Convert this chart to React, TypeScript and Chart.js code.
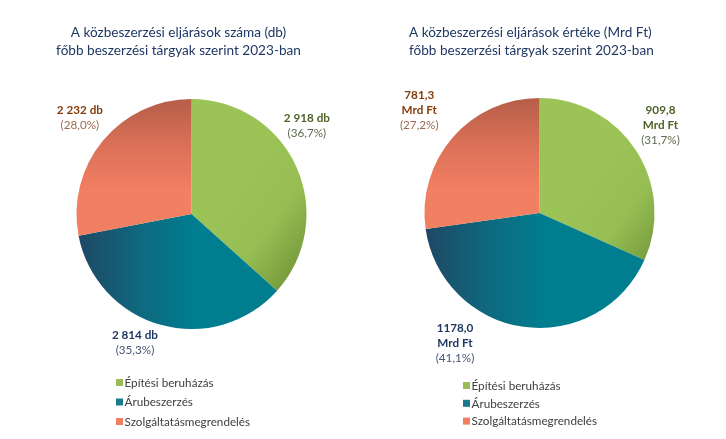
import React, { useEffect, useRef } from 'react';
import { Chart, registerables } from 'chart.js';

Chart.register(...registerables);

const categories = ['Építési beruházás', 'Árubeszerzés', 'Szolgáltatásmegrendelés'];

const countValues = [2918, 2814, 2232];
const countValueLabels = [['2 918 db'], ['2 814 db'], ['2 232 db']];
const countPercentLabels = ['(36,7%)', '(35,3%)', '(28,0%)'];
const countTitle = ['A közbeszerzési eljárások száma (db)', 'főbb beszerzési tárgyak szerint 2023-ban'];

const amountValues = [909.8, 1178.0, 781.3];
const amountValueLabels = [['909,8', 'Mrd Ft'], ['1178,0', 'Mrd Ft'], ['781,3', 'Mrd Ft']];
const amountPercentLabels = ['(31,7%)', '(41,1%)', '(27,2%)'];
const amountTitle = ['A közbeszerzési eljárások értéke (Mrd Ft)', 'főbb beszerzési tárgyak szerint 2023-ban'];

const FONT = 'Lato, "Open Sans", sans-serif';
const legendColors = ['#9BBB59', '#1B7A8C', '#F07F62'];
const valueColors = ['#4F6228', '#1F3864', '#843C0C'];
const pctColors = ['#5F6B4E', '#4A5675', '#9C6A52'];

function sliceGradient(ctx: any) {
  const chart = ctx.chart;
  const area = chart.chartArea;
  if (!area) return legendColors[ctx.dataIndex];
  const c = chart.ctx as CanvasRenderingContext2D;
  const cx = (area.left + area.right) / 2;
  const cy = (area.top + area.bottom) / 2;
  const r = Math.min(area.right - area.left, area.bottom - area.top) / 2;
  let g: CanvasGradient;
  if (ctx.dataIndex === 0) {
    g = c.createLinearGradient(cx + 0.2 * r, cy - 0.1 * r, cx + 0.95 * r, cy + 0.45 * r);
    g.addColorStop(0, '#9CC356');
    g.addColorStop(0.55, '#97BE53');
    g.addColorStop(1, '#769A3C');
  } else if (ctx.dataIndex === 1) {
    g = c.createLinearGradient(cx - r, cy + 0.2 * r, cx + 0.05 * r, cy + 0.2 * r);
    g.addColorStop(0, '#1F4763');
    g.addColorStop(0.55, '#0E6A80');
    g.addColorStop(1, '#007E90');
  } else {
    g = c.createLinearGradient(cx - 0.3 * r, cy - r, cx - 0.3 * r, cy - 0.2 * r);
    g.addColorStop(0, '#B45E48');
    g.addColorStop(0.5, '#DB7058');
    g.addColorStop(1, '#F17F62');
  }
  return g;
}

const decorPlugin = {
  id: 'decor',
  afterDraw(chart: any) {
    const o = chart.options.plugins.decor;
    const c = chart.ctx as CanvasRenderingContext2D;
    c.save();
    // title
    c.fillStyle = '#1F3864';
    c.font = `13.6px ${FONT}`;
    c.textAlign = o.titleAlign;
    c.textBaseline = 'middle';
    o.title.forEach((line: string, i: number) => {
      c.fillText(line, o.titleX, o.titleY + i * 18);
    });
    // data labels
    const meta = chart.getDatasetMeta(0);
    meta.data.forEach((arc: any, i: number) => {
      const mid = (arc.startAngle + arc.endAngle) / 2;
      const rr = arc.outerRadius * 1.27;
      const x = arc.x + Math.cos(mid) * rr + o.labelShift[i][0];
      const y = arc.y + Math.sin(mid) * rr + o.labelShift[i][1];
      const lines: string[] = o.valueLabels[i];
      const n = lines.length + 1;
      const top = y - ((n - 1) * 15) / 2;
      c.textAlign = 'center';
      c.font = `bold 11.7px ${FONT}`;
      c.fillStyle = valueColors[i];
      lines.forEach((l, j) => c.fillText(l, x, top + j * 15));
      c.font = `11.7px ${FONT}`;
      c.fillStyle = pctColors[i];
      c.fillText(o.pctLabels[i], x, top + lines.length * 15);
    });
    // legend
    c.textAlign = 'left';
    c.font = `11.7px ${FONT}`;
    chart.data.labels.forEach((lab: string, i: number) => {
      const y = o.legendY + i * o.legendGap;
      c.fillStyle = legendColors[i];
      c.fillRect(o.legendX, y - 3.5, 7, 7);
      c.fillStyle = '#404040';
      c.fillText(lab, o.legendX + 8.5, y + 0.5);
    });
    c.restore();
  },
};

function PieChart(props: {
  values: number[];
  valueLabels: string[][];
  pctLabels: string[];
  title: string[];
  padding: any;
  decor: any;
}) {
  const ref = useRef<HTMLCanvasElement | null>(null);
  useEffect(() => {
    if (!ref.current) return;
    const chart = new Chart(ref.current, {
      type: 'pie',
      data: {
        labels: categories,
        datasets: [
          {
            data: props.values,
            backgroundColor: sliceGradient as any,
            borderWidth: 0,
          },
        ],
      },
      options: {
        responsive: false,
        animation: false,
        devicePixelRatio: 1,
        layout: { padding: props.padding },
        plugins: {
          legend: { display: false },
          tooltip: { enabled: false },
          title: { display: false },
          decor: {
            ...props.decor,
            title: props.title,
            valueLabels: props.valueLabels,
            pctLabels: props.pctLabels,
          },
        } as any,
      },
      plugins: [decorPlugin],
    });
    return () => chart.destroy();
  }, []);
  return <canvas ref={ref} width={363} height={439} style={{ display: 'block' }} />;
}

export default function App() {
  return (
    <div
      style={{
        position: 'absolute',
        left: 0,
        top: 0,
        width: 726,
        height: 439,
        background: '#ffffff',
        display: 'flex',
      }}
    >
      <PieChart
        values={countValues}
        valueLabels={countValueLabels}
        pctLabels={countPercentLabels}
        title={countTitle}
        padding={{ left: 76.5, right: 56.5, top: 99, bottom: 110 }}
        decor={{
          titleX: 178.5,
          titleY: 33,
          titleAlign: 'center',
          labelShift: [[-18, -29], [-17.5, -12], [1, -3.5]],
          legendX: 116,
          legendY: 382.5,
          legendGap: 19.5,
        }}
      />
      <PieChart
        values={amountValues}
        valueLabels={amountValueLabels}
        pctLabels={amountPercentLabels}
        title={amountTitle}
        padding={{ left: 61.5, right: 71.5, top: 98, bottom: 111 }}
        decor={{
          titleX: 46,
          titleY: 33,
          titleAlign: 'left',
          labelShift: [[-1.6, -8.7], [-64, -14.5], [-10, -7]],
          legendX: 100,
          legendY: 385.5,
          legendGap: 17.8,
        }}
      />
    </div>
  );
}
